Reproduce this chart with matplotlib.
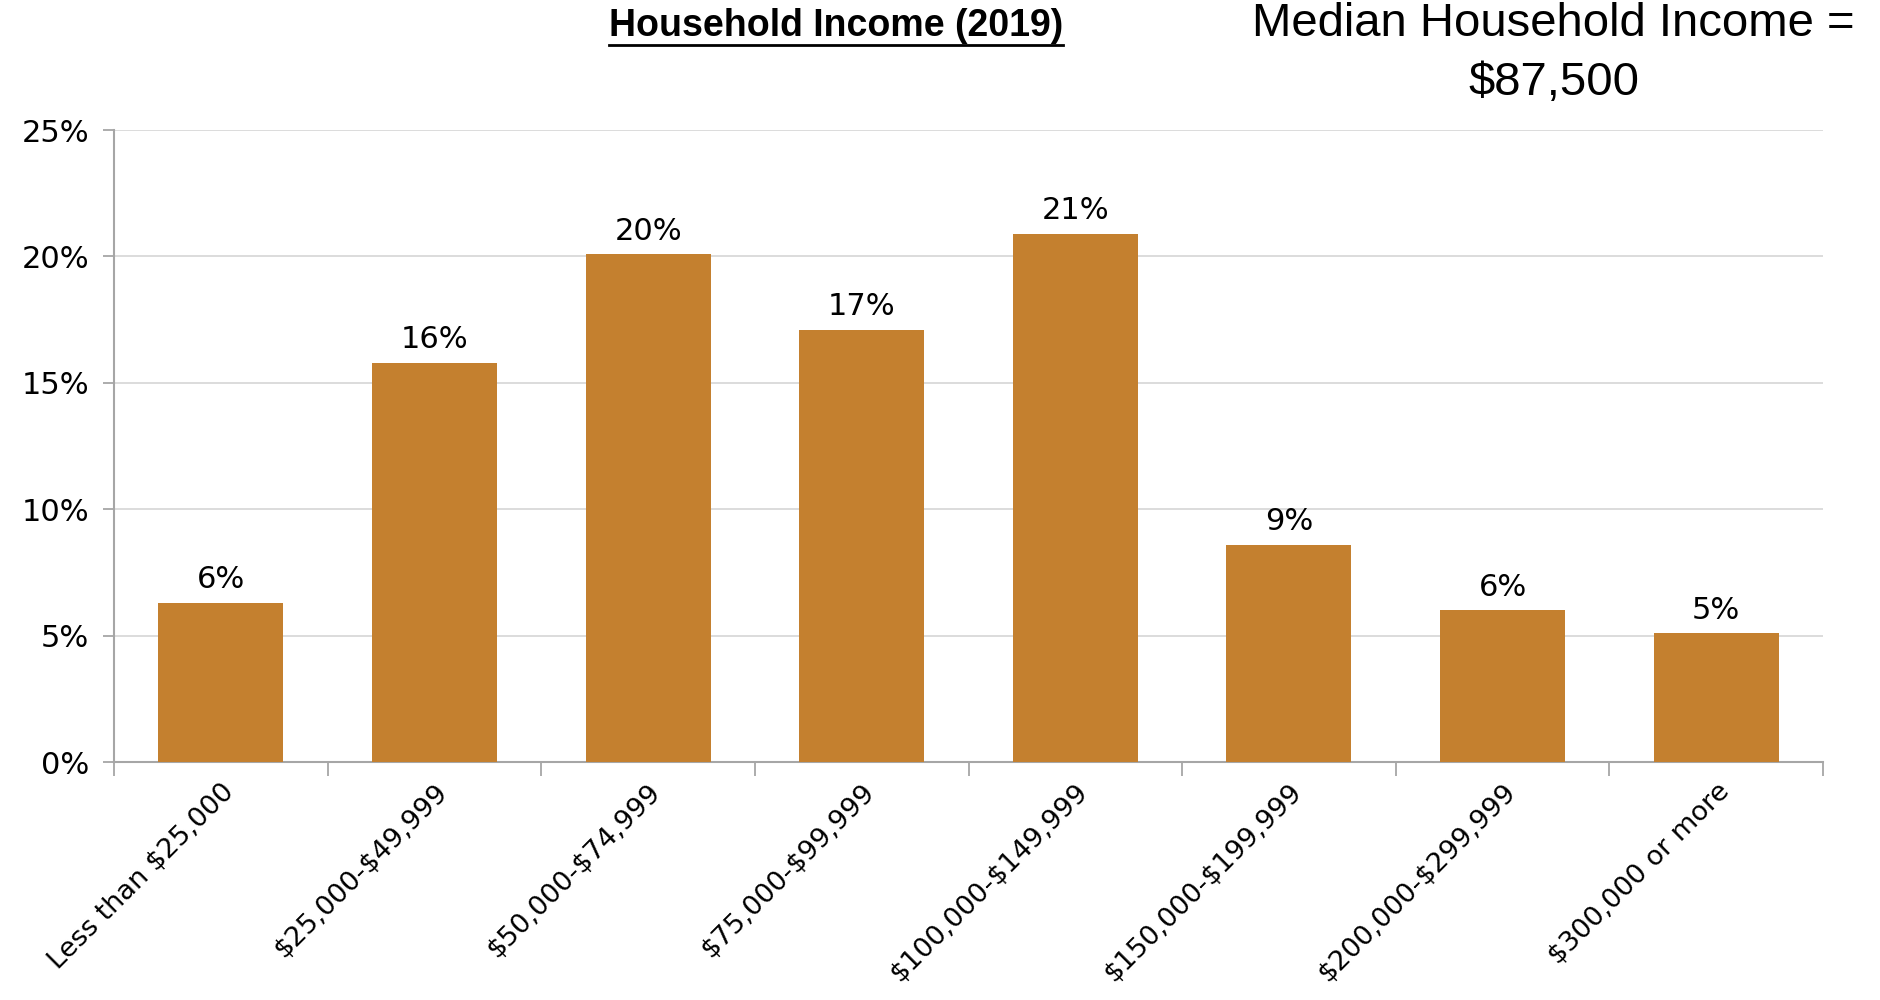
import matplotlib
matplotlib.use("Agg")
import matplotlib.pyplot as plt
from matplotlib.lines import Line2D
from matplotlib.ticker import FuncFormatter, MultipleLocator

plt.rcParams["text.parse_math"] = False   # keep "$" literal in the labels

# ---- data ----
categories = [
    "Less than $25,000", "$25,000-$49,999", "$50,000-$74,999", "$75,000-$99,999",
    "$100,000-$149,999", "$150,000-$199,999", "$200,000-$299,999", "$300,000 or more",
]
shares = [6.3, 15.8, 20.1, 17.1, 20.9, 8.6, 6.0, 5.1]   # percent of households
title_text = "Household Income (2019)"
median_text = "Median Household Income =\n$87,500"

BAR_COLOR = "#C4802F"
GRID_COLOR = "#D9D9D9"
AXIS_COLOR = "#A6A6A6"

fig = plt.figure(figsize=(18.81, 10.0), dpi=100)
ax = fig.add_axes([0.0606, 0.238, 0.9086, 0.632])

x = list(range(len(categories)))
ax.bar(x, shares, width=0.585, color=BAR_COLOR, zorder=3)

for xi, v in zip(x, shares):
    ax.annotate(f"{v:.0f}%", (xi, v), xytext=(0, 6), textcoords="offset points",
                ha="center", va="bottom", fontsize=22, color="black")

ax.set_xlim(-0.5, len(categories) - 0.5)
ax.set_ylim(0, 25)
ax.yaxis.set_major_locator(MultipleLocator(5))
ax.yaxis.set_major_formatter(FuncFormatter(lambda v, _: f"{v:.0f}%"))
ax.grid(axis="y", color=GRID_COLOR, linewidth=1.3, zorder=0)

# labels at bar centres, tick marks at category boundaries
ax.set_xticks(x)
ax.set_xticklabels(categories, rotation=45, ha="right", rotation_mode="anchor", fontsize=19.5)
ax.set_xticks([i - 0.5 for i in range(len(categories) + 1)], minor=True)
ax.tick_params(axis="x", which="major", length=0, pad=12)
ax.tick_params(axis="x", which="minor", length=10, width=1.3, color=AXIS_COLOR)
ax.tick_params(axis="y", length=8, width=1.3, color=AXIS_COLOR, pad=10, labelsize=22)

for side in ("top", "right"):
    ax.spines[side].set_visible(False)
for side in ("left", "bottom"):
    ax.spines[side].set_color(AXIS_COLOR)
    ax.spines[side].set_linewidth(1.5)

# underlined bold title
t = fig.text(0.4445, 0.992, title_text, ha="center", va="top", fontsize=27,
             fontweight="bold", family="Liberation Sans")
fig.canvas.draw()
bb = t.get_window_extent().transformed(fig.transFigure.inverted())
fig.add_artist(Line2D([bb.x0, bb.x1], [bb.y0 - 0.001, bb.y0 - 0.001],
                      transform=fig.transFigure, color="black", linewidth=2))

fig.text(0.826, 0.998, median_text, ha="center", va="top", fontsize=34,
         family="Liberation Sans", linespacing=1.45)

fig.savefig("out.png", dpi=100)
